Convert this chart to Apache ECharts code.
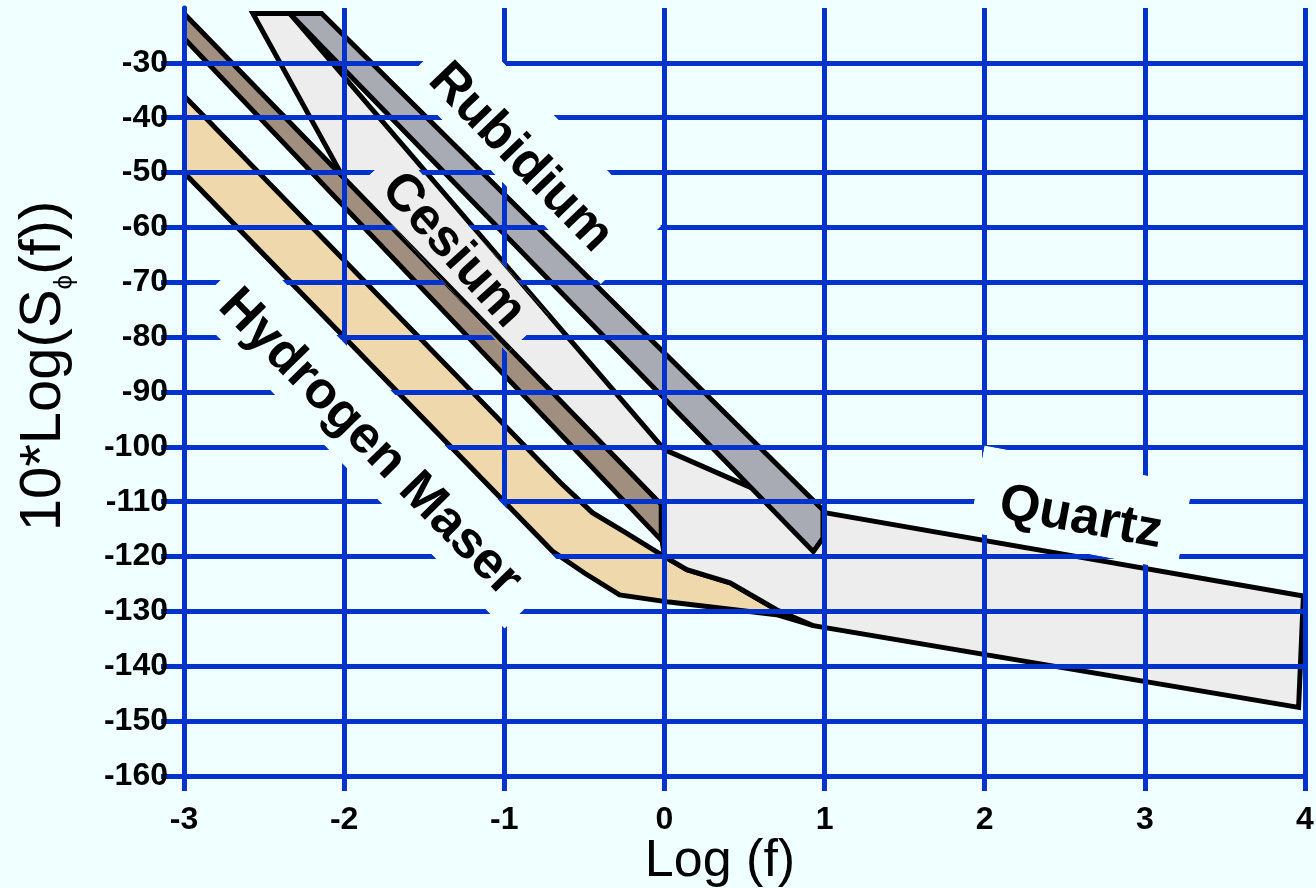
<!DOCTYPE html>
<html>
<head>
<meta charset="utf-8">
<script src="https://cdn.jsdelivr.net/npm/echarts@6/dist/echarts.min.js"></script>
<style>
html,body{margin:0;padding:0;background:#F0FFFF;}
#chart{width:1316px;height:888px;}
</style>
</head>
<body>
<div id="chart"></div>
<script>
// ---------------- data ----------------
const xTickValues = [-3, -2, -1, 0, 1, 2, 3, 4];
const yTickValues = [-160, -150, -140, -130, -120, -110, -100, -90, -80, -70, -60, -50, -40, -30];

// polygon outlines [log f, 10*log S]
const quartz = [[-2.57,-21],[-2.34,-21],[0,-100.5],[0.53,-107.3],[1.0,-112],[3.99,-127.2],[3.96,-147.5],
                [0.93,-132.6],[0.70,-129.7],[0.41,-124.8],[0.14,-122.4],[0,-120],[-0.02,-116],[-1,-84],[-2,-51.2]];
const hydrogenMaser = [[-3,-36],[-0.65,-106.5],[-0.45,-112],[-0.25,-115.5],[0,-120],[0.14,-122.4],[0.41,-124.8],
                       [0.70,-129.7],[0.93,-132.6],[0.70,-130.6],[0.03,-128.3],[-0.28,-127],[-0.5,-123],[-0.7,-119],[-3,-50]];
const cesium = [[-3,-21],[-0.02,-110.5],[-0.02,-117],[-3,-25.5]];
const rubidium = [[-2.34,-21],[-2.14,-21],[0.99,-111.5],[0.99,-116.6],[0.93,-119.1]];

const shapeNames = ['Hydrogen Maser', 'Quartz', 'Cesium', 'Rubidium'];
const shapePoints = [hydrogenMaser, quartz, cesium, rubidium];

const labelTexts = ['Rubidium', 'Cesium', 'Hydrogen Maser', 'Quartz'];

// ---------------- layout / style ----------------
const BG = '#F0FFFF';
const BLUE = '#0033CC';
const shapeFills = ['#EED8AC', '#EDEDED', '#A08F7F', '#A9ABB4'];
const labelLayout = [
  {x:-0.90, y:-47.3, angle:46,   du:5,  dn:-12, hl:142, hh:42},
  {x:-1.32, y:-64.2, angle:48,   du:0,  dn:0,   hl:112, hh:28},
  {x:-1.84, y:-99.3, angle:45.5, du:3,  dn:-9,  hl:224, hh:43},
  {x: 2.60, y:-113.0,angle:10.5, du:-2, dn:-10, hl:106, hh:44}
];
const FONT = '"Liberation Sans", Arial, Helvetica, sans-serif';
const TICKFONT = '"Liberation Sans Narrow", "Arial Narrow", "Liberation Sans", Arial, sans-serif';

function polyEl(i, api, z2) {
  return {
    type: 'polygon',
    z2: z2,
    shape: { points: shapePoints[i].map(p => api.coord(p)) },
    style: { fill: shapeFills[i], stroke: '#000', lineWidth: 5, lineJoin: 'miter', miterLimit: 4 }
  };
}

const chart = echarts.init(document.getElementById('chart'), null, {renderer: 'canvas'});

const option = {
  backgroundColor: BG,
  animation: false,
  grid: { left: 184, right: 11, top: 8, bottom: 112, containLabel: false, outerBoundsMode: 'none' },
  xAxis: {
    type: 'value', min: -3, max: 4, interval: 1, z: 3,
    axisLine: { show: true, onZero: false, lineStyle: { color: BLUE, width: 5 } },
    axisTick: { show: true, length: 15, lineStyle: { color: BLUE, width: 5 } },
    splitLine: { show: true, lineStyle: { color: BLUE, width: 5 } },
    axisLabel: { color: '#000', fontSize: 32, fontWeight: 'bold', fontFamily: TICKFONT, margin: 28,
                 formatter: v => xTickValues.indexOf(v) >= 0 ? String(v) : '' }
  },
  yAxis: {
    type: 'value', min: -160, max: -20, interval: 10, z: 3,
    axisLine: { show: true, onZero: false, lineStyle: { color: BLUE, width: 5 } },
    axisTick: { show: true, length: 23, customValues: yTickValues, lineStyle: { color: BLUE, width: 5 } },
    splitLine: { show: true, lineStyle: { color: BLUE, width: 5 } },
    axisLabel: { color: '#000', fontSize: 32, fontWeight: 'bold', fontFamily: TICKFONT, margin: 16,
                 customValues: yTickValues,
                 formatter: v => yTickValues.indexOf(v) >= 0 ? String(v) : '' }
  },
  graphic: [
    {
      type: 'text', x: 720, y: 862, z: 10,
      style: { text: 'Log (f)', fill: '#000', fontSize: 52, fontFamily: FONT, align: 'center', verticalAlign: 'middle' }
    },
    {
      type: 'text', x: 44, y: 366, rotation: Math.PI / 2, z: 10,
      style: {
        text: '{a|10*Log(S}{s|ϕ}{a|(f))}',
        fill: '#000', align: 'center', verticalAlign: 'middle',
        rich: {
          a: { fontSize: 58, fontFamily: FONT, lineHeight: 68, verticalAlign: 'middle', fill: '#000' },
          s: { fontSize: 26, fontFamily: FONT, lineHeight: 68, verticalAlign: 'bottom', fill: '#000' }
        }
      }
    }
  ],
  series: [
    {
      type: 'custom', name: 'shapes', coordinateSystem: 'cartesian2d', z: 2, silent: true, clip: true,
      data: shapePoints.map((pts, i) => [pts[0][0], pts[0][1], i]),
      renderItem: (params, api) => polyEl(params.dataIndex, api, 0)
    },
    {
      type: 'custom', name: 'labels', coordinateSystem: 'cartesian2d', z: 5, silent: true, clip: false,
      data: labelLayout.map((L, i) => [L.x, L.y, i]),
      renderItem: (params, api) => {
        const i = params.dataIndex;
        const L = labelLayout[i];
        const c = api.coord([L.x, L.y]);
        const a = L.angle * Math.PI / 180;
        const ux = Math.cos(a), uy = Math.sin(a), nx = -Math.sin(a), ny = Math.cos(a);
        const bx = c[0] + L.du * ux + L.dn * nx;
        const by = c[1] + L.du * uy + L.dn * ny;
        const boxShape = { x: -L.hl, y: -L.hh, width: 2 * L.hl, height: 2 * L.hh };
        const copies = shapePoints.map((p, k) => polyEl(k, api, 1));
        return {
          type: 'group',
          children: [
            {
              type: 'group',
              clipPath: { type: 'rect', x: bx, y: by, rotation: -a, shape: boxShape },
              children: [
                { type: 'rect', x: bx, y: by, rotation: -a, z2: 0, shape: boxShape, style: { fill: BG } }
              ].concat(copies)
            },
            {
              type: 'text', x: c[0], y: c[1], rotation: -a, z2: 2,
              style: { text: labelTexts[i], fill: '#000', fontSize: 52, fontWeight: 'bold', fontFamily: FONT,
                       align: 'center', verticalAlign: 'middle' }
            }
          ]
        };
      }
    }
  ]
};
chart.setOption(option);
</script>
</body>
</html>
